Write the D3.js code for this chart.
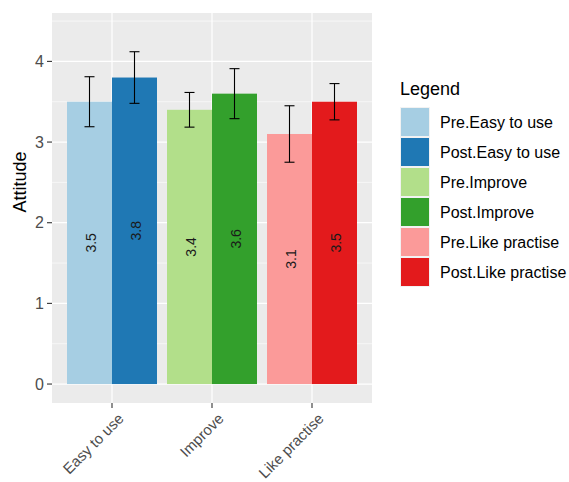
<!DOCTYPE html>
<html><head><meta charset="utf-8">
<script src="https://cdn.jsdelivr.net/npm/d3@7"></script>
<style>body{margin:0;background:#fff}svg{display:block}text{font-family:"Liberation Sans",Arial,sans-serif}</style>
</head><body>
<script>
const categories = ["Easy to use", "Improve", "Like practise"];
const groups = ["Pre", "Post"];
const preValues = [3.5, 3.4, 3.1];
const postValues = [3.8, 3.6, 3.5];
const preErr = [0.31, 0.215, 0.35];
const postErr = [0.32, 0.31, 0.225];
const yTicks = [0, 1, 2, 3, 4];
const yMinor = [0.5, 1.5, 2.5, 3.5, 4.5];
const yLimits = [-0.235, 4.6];
const colors = ["#A6CEE3", "#1F78B4", "#B2DF8A", "#33A02C", "#FB9A99", "#E31A1C"];
const legendLabels = ["Pre.Easy to use", "Post.Easy to use", "Pre.Improve", "Post.Improve", "Pre.Like practise", "Post.Like practise"];
const yTitle = "Attitude";
const legendTitle = "Legend";

const W = 569, H = 482;
const panel = {l: 52, r: 372, t: 13, b: 403};

const svg = d3.select("body").append("svg").attr("width", W).attr("height", H);

const y = d3.scaleLinear().domain(yLimits).range([panel.b, panel.t]);
const x = d3.scalePoint().domain(categories).range([112, 312]);
const xInner = d3.scaleBand().domain(groups).range([-45, 45]);

// panel background
svg.append("rect").attr("x", panel.l).attr("y", panel.t)
  .attr("width", panel.r - panel.l).attr("height", panel.b - panel.t).attr("fill", "#EBEBEB");

// grid
svg.append("g").selectAll("line").data(yMinor).join("line")
  .attr("x1", panel.l).attr("x2", panel.r)
  .attr("y1", d => y(d)).attr("y2", d => y(d))
  .attr("stroke", "#fff").attr("stroke-width", 0.6);
svg.append("g").selectAll("line").data(yTicks).join("line")
  .attr("x1", panel.l).attr("x2", panel.r)
  .attr("y1", d => y(d)).attr("y2", d => y(d))
  .attr("stroke", "#fff").attr("stroke-width", 1.2);
svg.append("g").selectAll("line").data(categories).join("line")
  .attr("x1", d => x(d)).attr("x2", d => x(d))
  .attr("y1", panel.t).attr("y2", panel.b)
  .attr("stroke", "#fff").attr("stroke-width", 1.2);

// data rows
const rows = [];
categories.forEach((c, i) => {
  rows.push({cat: c, grp: "Pre", v: preValues[i], e: preErr[i], col: colors[i * 2]});
  rows.push({cat: c, grp: "Post", v: postValues[i], e: postErr[i], col: colors[i * 2 + 1]});
});

const bx = d => x(d.cat) + xInner(d.grp);
const cx = d => bx(d) + xInner.bandwidth() / 2;

svg.append("g").selectAll("rect").data(rows).join("rect")
  .attr("x", bx).attr("width", xInner.bandwidth())
  .attr("y", d => y(d.v)).attr("height", d => y(0) - y(d.v))
  .attr("fill", d => d.col);

// error bars
const eb = svg.append("g").attr("stroke", "#000").attr("stroke-width", 1.1);
rows.forEach(d => {
  eb.append("line").attr("x1", cx(d)).attr("x2", cx(d)).attr("y1", y(d.v + d.e)).attr("y2", y(d.v - d.e));
  eb.append("line").attr("x1", cx(d) - 5).attr("x2", cx(d) + 5).attr("y1", y(d.v + d.e)).attr("y2", y(d.v + d.e));
  eb.append("line").attr("x1", cx(d) - 5).attr("x2", cx(d) + 5).attr("y1", y(d.v - d.e)).attr("y2", y(d.v - d.e));
});

// value labels
svg.append("g").selectAll("text").data(rows).join("text")
  .attr("transform", d => `translate(${cx(d) + 1},${y(d.v / 2)}) rotate(-90)`)
  .attr("text-anchor", "middle").attr("dy", "0.36em")
  .attr("font-size", 14).attr("fill", "#1a1a1a")
  .text(d => d3.format(".1f")(d.v));

// y axis
const ya = svg.append("g");
ya.selectAll("line").data(yTicks).join("line")
  .attr("x1", panel.l - 5).attr("x2", panel.l).attr("y1", d => y(d)).attr("y2", d => y(d))
  .attr("stroke", "#333").attr("stroke-width", 1.1);
ya.selectAll("text").data(yTicks).join("text")
  .attr("x", panel.l - 8).attr("y", d => y(d)).attr("dy", "0.36em")
  .attr("text-anchor", "end").attr("font-size", 16).attr("fill", "#4D4D4D")
  .text(d => d);

// x axis
const xa = svg.append("g");
xa.selectAll("line").data(categories).join("line")
  .attr("x1", d => x(d)).attr("x2", d => x(d)).attr("y1", panel.b).attr("y2", panel.b + 5)
  .attr("stroke", "#333").attr("stroke-width", 1.1);
xa.selectAll("text").data(categories).join("text")
  .attr("transform", d => `translate(${x(d) + 5},${panel.b + 9}) rotate(-45)`)
  .attr("text-anchor", "end").attr("dy", "0.72em")
  .attr("font-size", 15).attr("fill", "#4D4D4D")
  .text(d => d);

// y title
svg.append("text").attr("transform", `translate(26,182) rotate(-90)`)
  .attr("text-anchor", "middle").attr("font-size", 18).attr("fill", "#000")
  .text(yTitle);

// legend
const lg = svg.append("g");
lg.append("text").attr("x", 400).attr("y", 95).attr("font-size", 18).attr("fill", "#000").text(legendTitle);
const items = lg.selectAll("g").data(legendLabels).join("g")
  .attr("transform", (d, i) => `translate(400,${107 + i * 30})`);
items.append("rect").attr("width", 30).attr("height", 30).attr("fill", "#F2F2F2");
items.append("rect").attr("x", 1).attr("y", 1).attr("width", 28).attr("height", 28)
  .attr("fill", (d, i) => colors[i]);
items.append("text").attr("x", 40).attr("y", 15).attr("dy", "0.36em")
  .attr("font-size", 16).attr("fill", "#000").text(d => d);
</script>
</body></html>
